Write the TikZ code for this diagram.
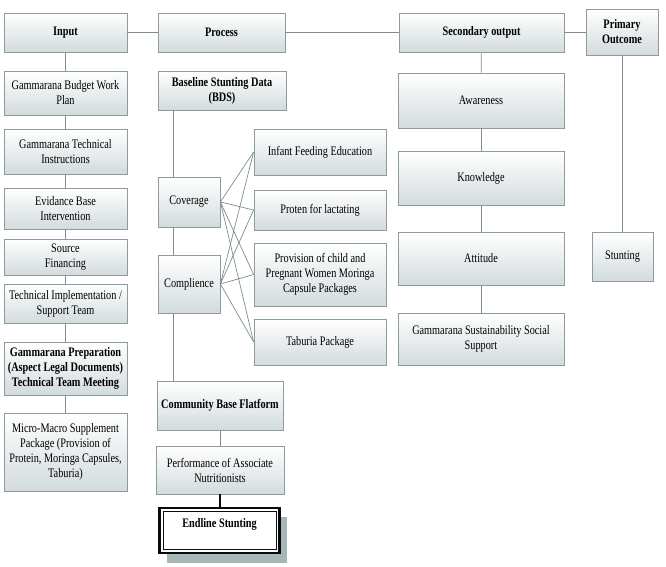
\documentclass[tikz,border=0pt]{standalone}
\usepackage{fontspec}
\setmainfont{Liberation Serif}[FakeStretch=0.79]
\usepackage{tikz}
\usetikzlibrary{
  positioning,
  shadows
}
\definecolor{boxline}{HTML}{8E9B9E}
\definecolor{boxbot}{HTML}{D3DBDD}
\definecolor{linkgray}{HTML}{7F8C8D}
\definecolor{shadowgray}{HTML}{A7B6B9}
\definecolor{endblack}{RGB}{10,10,10}
\tikzstyle{box}=[draw=boxline, line width=0.8pt, top color=white, bottom color=boxbot,
  align=center, inner sep=1pt, font=\fontsize{13}{15}\selectfont,
  drop shadow={shadow xshift=0.8pt, shadow yshift=-0.8pt, fill=gray!45}]
\tikzstyle{link}=[draw=linkgray, line width=0.7pt]
\tikzstyle{endbox}=[draw=endblack, line width=2.2pt, fill=white, align=center,
  inner xsep=1pt, inner ysep=0pt, font=\fontsize{13}{15}\selectfont\bfseries]
\tikzstyle{endrim}=[draw=endblack, line width=0.7pt, inner sep=0pt]
\tikzstyle{endshade}=[fill=shadowgray, inner sep=0pt]

\begin{document}
\begin{tikzpicture}[x=1pt, y=-1pt]
    \useasboundingbox (0,0) rectangle (666,567);

    % 見出しの行
    \node[box, minimum width=123, minimum height=39] (input) at (65.5,32.5) {\textbf{Input}};
    \node[box, minimum width=127, minimum height=39] (process) at (221.5,32.5) {\textbf{Process}};
    \node[box, minimum width=165, minimum height=39] (secout) at (481.5,32.5) {\textbf{Secondary output}};
    \node[box, minimum width=72, minimum height=46] (primout) at (622,32) {\textbf{Primary}\\\textbf{Outcome}};

    % Input の列
    \node[box, minimum width=123, minimum height=44] (budget) at (65.5,93) {Gammarana Budget Work\\Plan};
    \node[box, minimum width=123, minimum height=45] (techins) at (65.5,151.5) {Gammarana Technical\\Instructions};
    \node[box, minimum width=123, minimum height=41] (evid) at (65.5,208.5) {Evidance Base\\Intervention};
    \node[box, minimum width=123, minimum height=36] (source) at (65.5,257) {Source\\Financing};
    \node[box, minimum width=123, minimum height=39] (techimp) at (65.5,303.5) {Technical Implementation /\\Support Team};
    \node[box, minimum width=123, minimum height=53] (prep) at (65.5,368.5)
      {\textbf{Gammarana Preparation}\\\textbf{(Aspect Legal Documents)}\\\textbf{Technical Team Meeting}};
    \node[box, minimum width=123, minimum height=78] (micro) at (65.5,452)
      {Micro-Macro Supplement\\Package (Provision of\\Protein, Moringa Capsules,\\Taburia)};

    % Process の列
    \node[box, minimum width=128, minimum height=39] (bds) at (222,90.5) {\textbf{Baseline Stunting Data}\\\textbf{(BDS)}};
    \node[box, minimum width=62, minimum height=50] (cov) at (189,202) {Coverage};
    \node[box, minimum width=62, minimum height=58] (comp) at (189,284) {Complience};
    \node[box, minimum width=126, minimum height=49] (cbf) at (220,405.5) {\textbf{Community Base Flatform}};
    \node[box, minimum width=128, minimum height=48] (perf) at (220,470) {Performance of Associate\\Nutritionists};
    \node[endshade, minimum width=120, minimum height=46] (endshadow) at (227,540) {};
    \node[endbox, minimum width=120, text height=19pt, text depth=26pt] (endl) at (219.5,530.5) {Endline Stunting};
    \node[endrim, minimum width=113, minimum height=38.5] (endrim) at (endl.center) {};

    % 介入の列
    \node[box, minimum width=132, minimum height=46] (infant) at (320,152) {Infant Feeding Education};
    \node[box, minimum width=132, minimum height=40] (proten) at (320,210) {Proten for lactating};
    \node[box, minimum width=132, minimum height=63] (provis) at (320,274.5)
      {Provision of child and\\Pregnant Women Moringa\\Capsule Packages};
    \node[box, minimum width=132, minimum height=46] (tabur) at (320,342) {Taburia Package};

    % Secondary output の列
    \node[box, minimum width=166, minimum height=55] (aware) at (481,100.5) {Awareness};
    \node[box, minimum width=166, minimum height=54] (know) at (481,178) {Knowledge};
    \node[box, minimum width=166, minimum height=53] (att) at (481,258.5) {Attitude};
    \node[box, minimum width=166, minimum height=52] (sust) at (481,339) {Gammarana Sustainability Social\\Support};

    % Primary Outcome の列
    \node[box, minimum width=61, minimum height=49] (stunt) at (622.5,256.5) {Stunting};

    % 接続線
    \draw[link] (input) -- (process);
    \draw[link] (process) -- (secout);
    \draw[link] (secout.east) -- (primout.west |- secout.east);
    \foreach \a/\b in {input/budget, budget/techins, techins/evid, evid/source,
                       source/techimp, techimp/prep, prep/micro}
      \draw[link] (\a) -- (\b);
    \coordinate (spine) at (173,0);
    \draw[link] (bds.south -| spine) -- (cov.north -| spine);
    \draw[link] (cov.south -| spine) -- (comp.north -| spine);
    \draw[link] (comp.south -| spine) -- (cbf.north -| spine);
    \draw[link] (cbf) -- (perf);
    \foreach \s in {cov, comp}
      \foreach \t in {infant, proten, provis, tabur}
        \draw[link] (\s.east) -- (\t.west);
    \foreach \a/\b in {secout/aware, aware/know, know/att, att/sust}
      \draw[link] (\a) -- (\b);
    \draw[link] (primout.south) -- (primout.south |- stunt.north);
    \coordinate (endtop) at (220,507);
    \draw[endblack, line width=1.3pt] (perf.south) -- (endtop);
\end{tikzpicture}
\end{document}
